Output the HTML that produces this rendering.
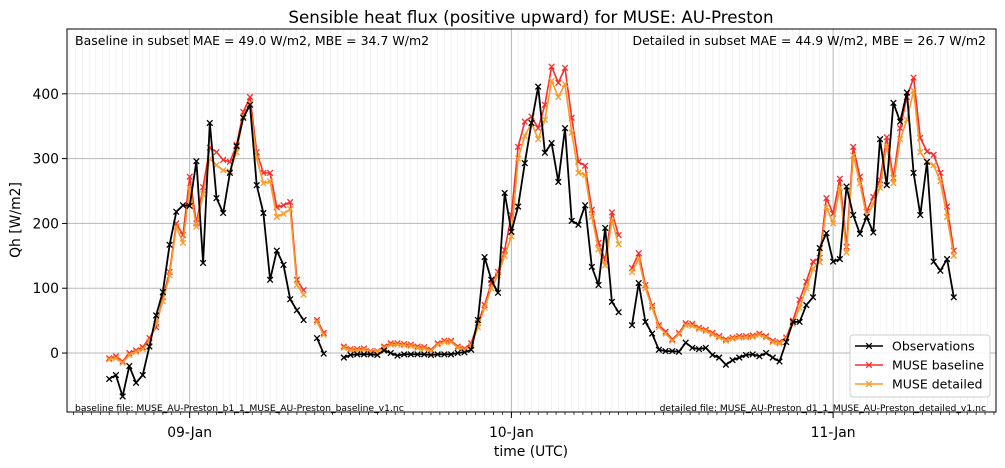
<!DOCTYPE html>
<html><head><meta charset="utf-8">
<style>
body{margin:0;background:#fff;}
svg{display:block;font-family:"DejaVu Sans","Liberation Sans",sans-serif;}
</style></head>
<body>
<svg id="chart" width="1005" height="468" viewBox="0 0 1005 468" xmlns="http://www.w3.org/2000/svg">
<rect x="0" y="0" width="1005" height="468" fill="#fff"/>
<g id="grid"></g>
<g id="series"></g>
<rect x="67" y="29" width="929" height="383" fill="none" stroke="#000" stroke-width="1"/>
<g id="axes"></g>
<text x="531" y="23" font-size="16.7" text-anchor="middle">Sensible heat flux (positive upward) for MUSE: AU-Preston</text>
<text transform="translate(20,220) rotate(-90)" font-size="13.9" text-anchor="middle">Qh [W/m2]</text>
<text x="531" y="456" font-size="13.9" text-anchor="middle">time (UTC)</text>
<text x="75" y="45" font-size="12.5">Baseline in subset MAE = 49.0 W/m2, MBE = 34.7 W/m2</text>
<text x="986" y="45" font-size="12.5" text-anchor="end">Detailed in subset MAE = 44.9 W/m2, MBE = 26.7 W/m2</text>
<text x="75" y="411" font-size="9.2">baseline file: MUSE_AU-Preston_b1_1_MUSE_AU-Preston_baseline_v1.nc</text>
<text x="986" y="411" font-size="9.2" text-anchor="end">detailed file: MUSE_AU-Preston_d1_1_MUSE_AU-Preston_detailed_v1.nc</text>
<g>
<rect x="850" y="335" width="140" height="62" rx="3" fill="#fff" fill-opacity="0.85" stroke="#ccc"/>
<g>
<line x1="855" y1="346" x2="883" y2="346" stroke="#000" stroke-width="1.6"/>
<path d="M866.2 343.2L871.8 348.8M866.2 348.8L871.8 343.2" stroke="#000" stroke-width="1.3"/>
<text x="892" y="350.5" font-size="12.5">Observations</text></g>
<g>
<line x1="855" y1="365" x2="883" y2="365" stroke="#f52e2e" stroke-width="1.6"/>
<path d="M866.2 362.2L871.8 367.8M866.2 367.8L871.8 362.2" stroke="#f52e2e" stroke-width="1.3"/>
<text x="892" y="369.5" font-size="12.5">MUSE baseline</text></g>
<g>
<line x1="855" y1="384" x2="883" y2="384" stroke="#fb9a28" stroke-width="1.6"/>
<path d="M866.2 381.2L871.8 386.8M866.2 386.8L871.8 381.2" stroke="#fb9a28" stroke-width="1.3"/>
<text x="892" y="388.5" font-size="12.5">MUSE detailed</text></g>
</g>
</svg>
<script>
// half-hourly steps starting 08-Jan 18:00 (index 0)
const N = null;
const obs = [-40,-34,-67,-20,-46,-34,10,58,94,167,218,228,227,296,139,355,239,216,278,319,363,383,259,216,113,158,136,83,66,51,N,23,-1,
 N,N,-7,-3,-2,-2,-2,-3,4,0,-4,-2,-2,-2,-2,-3,-2,-2,-2,0,1,5,
 51,148,113,93,247,187,226,293,355,411,309,324,264,347,204,198,228,133,105,193,79,63,N,43,108,48,30,5,3,
 3,2,16,8,6,8,-3,-7,-18,-11,-7,-3,-2,-5,0,-7,-13,17,48,
 48,74,86,162,185,141,145,257,213,184,210,186,330,259,386,357,402,278,213,295,141,127,145,86];
const baseline = [-8,-5,-13,0,4,9,23,40,86,125,200,182,272,200,256,317,310,298,295,321,372,395,310,278,278,225,228,233,113,97,N,51,31,
 N,N,10,6,6,7,3,3,10,15,15,14,13,10,9,5,15,19,19,10,7,15,
 46,74,108,125,159,213,318,357,365,347,383,442,417,440,363,295,289,221,170,144,217,182,N,131,154,105,73,43,33,
 21,31,46,45,39,36,31,26,21,24,26,26,27,30,26,19,17,24,50,
 82,110,141,147,239,215,269,164,318,272,218,241,267,333,270,347,395,425,332,311,306,278,226,158];
const detailed = [-10,-8,-15,-3,2,6,18,45,80,120,195,170,255,195,245,300,290,282,280,310,365,385,300,262,265,210,215,222,105,90,N,48,28,
 N,N,8,4,4,5,2,2,8,13,13,12,11,8,7,3,13,17,17,8,5,11,
 40,70,100,120,150,180,300,335,355,330,360,420,395,415,340,278,275,210,160,135,205,168,N,125,145,100,70,40,30,
 19,29,43,42,37,34,29,24,19,22,24,24,25,28,24,17,15,22,45,
 70,100,130,140,225,200,255,155,305,262,210,230,255,320,262,330,360,405,310,295,290,265,210,150];
const yTicks = [0,100,200,300,400];
const dayTicks = ["09-Jan","10-Jan","11-Jan"];
const dayTickHours = [6,30,54]; // hours from series start

const L=67,R=996,T=29,B=412;
const hMin=-3.15,hMax=66.15;
const vMin=-91,vMax=500;
function xS(h){return L+(h-hMin)/(hMax-hMin)*(R-L);}
function yS(v){return B-(v-vMin)/(vMax-vMin)*(B-T);}
const NS="http://www.w3.org/2000/svg";
function mk(tag,attrs,parent){const e=document.createElementNS(NS,tag);for(const k in attrs)e.setAttribute(k,attrs[k]);parent.appendChild(e);return e;}
const grid=document.getElementById('grid'),axes=document.getElementById('axes'),ser=document.getElementById('series');
for(let h=Math.ceil(hMin*2)/2;h<=hMax;h+=0.5){
  const x=xS(h);
  const g=mk('line',{x1:x,x2:x,y1:T,y2:B,stroke:'#ebebeb','stroke-width':0.6},grid);
  
  
}
dayTicks.forEach((lab,i)=>{
  const x=xS(dayTickHours[i]);
  const g=mk('line',{x1:x,x2:x,y1:T,y2:B,stroke:'#b8b8b8','stroke-width':1},grid);
  
  
  const t=mk('line',{x1:x,x2:x,y1:B,y2:B+6,stroke:'#000'},axes);
  
  
  const tx=mk('text',{x:x,y:B+25,'font-size':13.9,'text-anchor':'middle'},axes);
  tx.textContent=lab;
  
  
});
for(let h=dayTickHours[0]-48;h<=hMax;h+=24/36){
  if(h<hMin)continue;
  const x=xS(h);
  const t=mk('line',{x1:x,x2:x,y1:B,y2:B+3,stroke:'#000','stroke-width':0.7},axes);
  
  
}
yTicks.forEach(v=>{
  const y=yS(v);
  const g=mk('line',{x1:L,x2:R,y1:y,y2:y,stroke:'#b8b8b8','stroke-width':1},grid);
  
  
  const t=mk('line',{x1:L-5,x2:L,y1:y,y2:y,stroke:'#000'},axes);
  
  
  const tx=mk('text',{x:L-8,y:y+5,'font-size':13.9,'text-anchor':'end'},axes);
  tx.textContent=v;
  
  
});
function drawSeries(vals,color,name,w){
  const g=mk('g',{},ser);
  
  
  let d='',pen=false;
  vals.forEach((v,i)=>{
    if(v===null){pen=false;return;}
    const x=xS(i*0.5),y=yS(v);
    d+=(pen?'L':'M')+x.toFixed(1)+' '+y.toFixed(1);pen=true;
  });
  const p=mk('path',{d:d,fill:'none',stroke:color,'stroke-width':w,'stroke-linejoin':'round'},g);
  
  
  vals.forEach((v,i)=>{
    if(v===null)return;
    const x=xS(i*0.5),y=yS(v),s=2.8;
    const m=mk('path',{d:`M${x-s} ${y-s}L${x+s} ${y+s}M${x-s} ${y+s}L${x+s} ${y-s}`,stroke:color,'stroke-width':1.3},g);
    
    
  });
}
drawSeries(baseline,'#f52e2e','muse-baseline',1.6);
drawSeries(detailed,'#fb9a28','muse-detailed',1.6);
drawSeries(obs,'#000','observations',1.8);
</script>
</body></html>
